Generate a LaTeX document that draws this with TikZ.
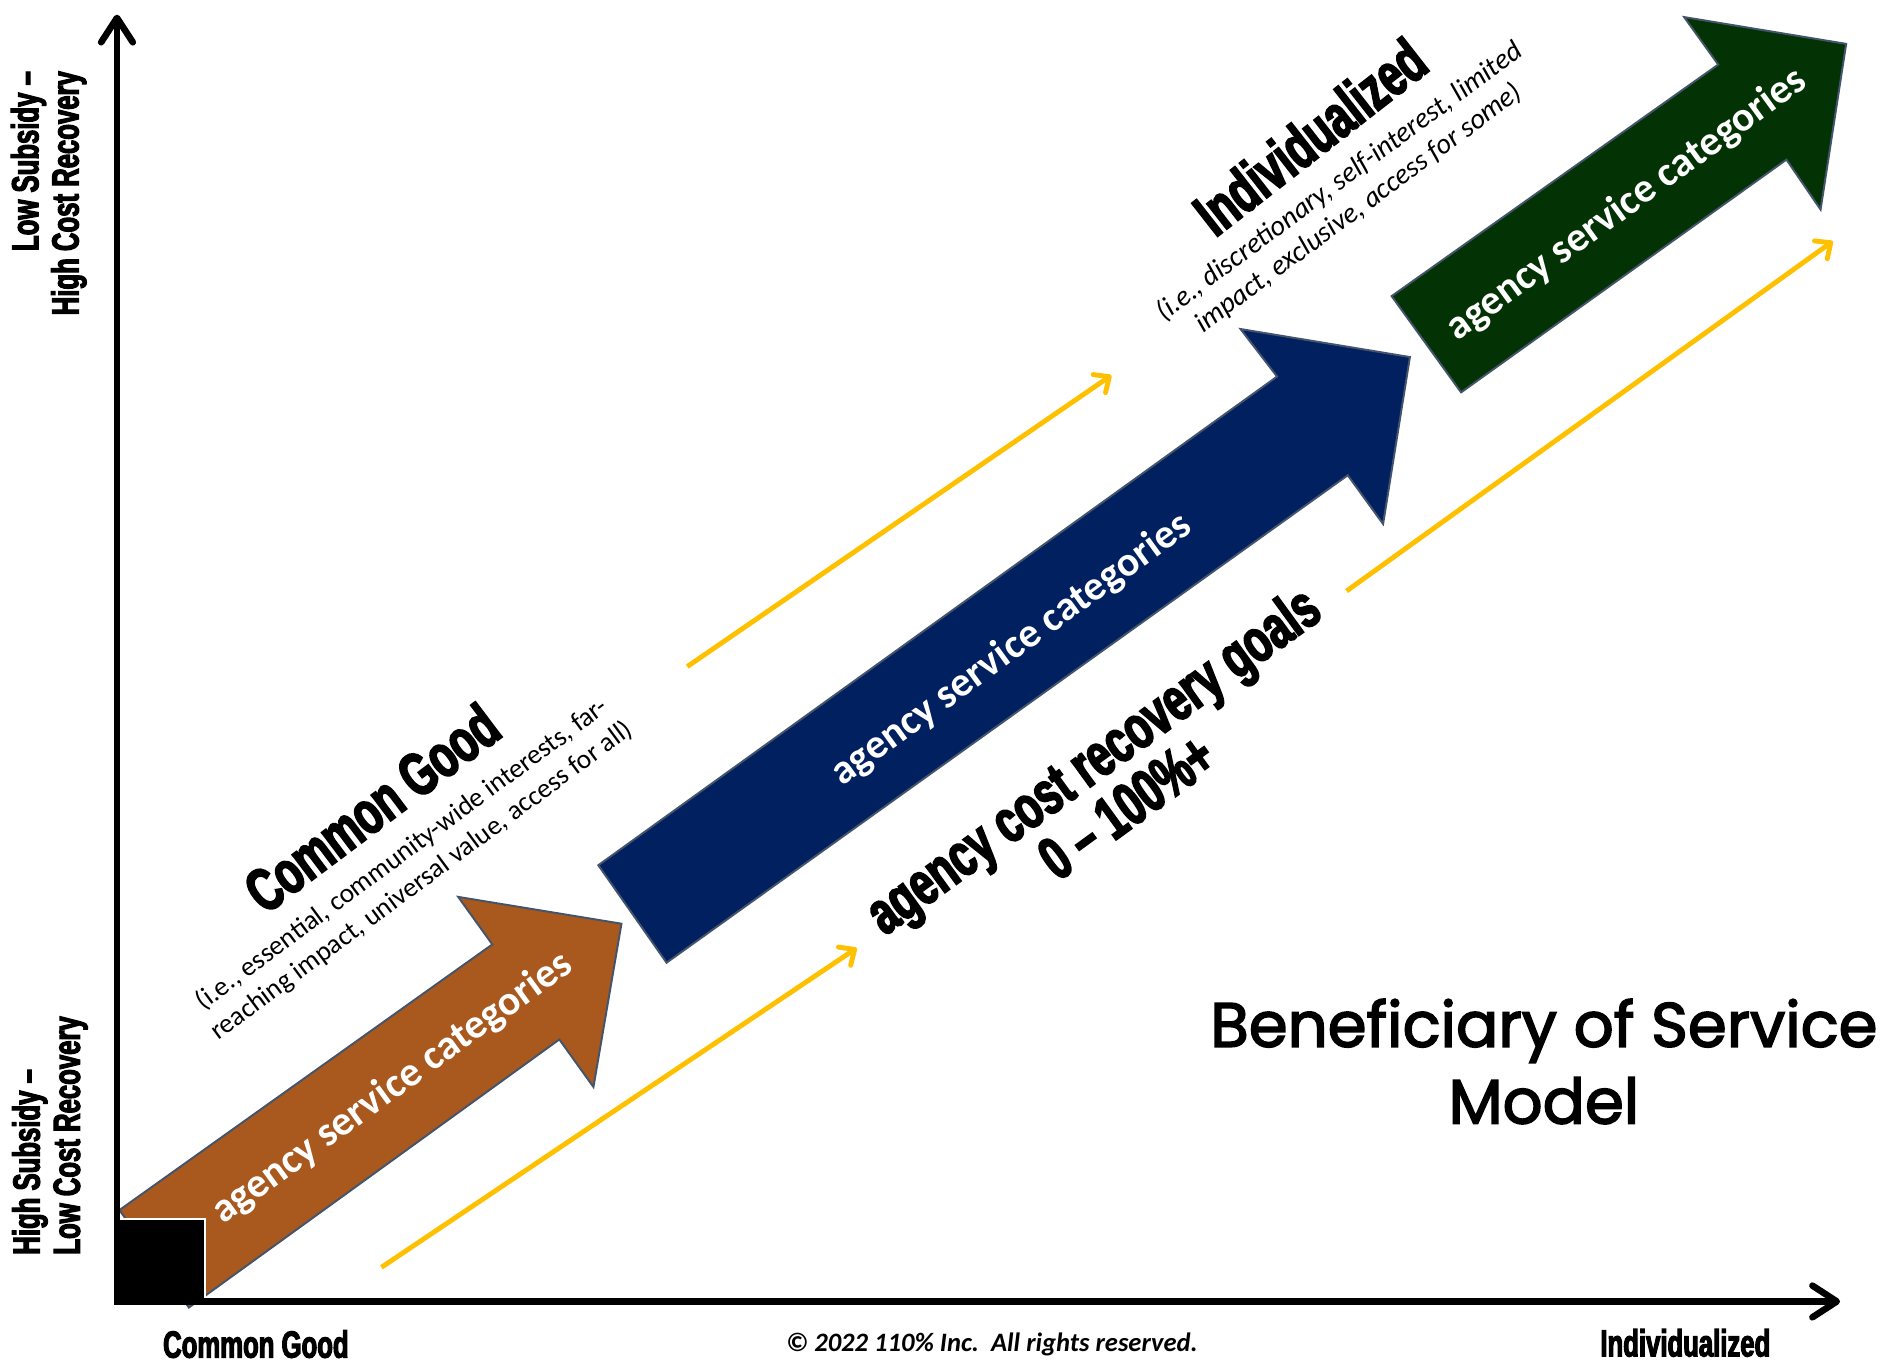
\documentclass[tikz,border=0pt]{standalone}
\usepackage{fontspec}
\setmainfont{Carlito}
\newfontfamily\impactfont[FakeStretch=0.68,FakeBold=3]{Liberation Sans}
\newfontfamily\titlefont[FakeBold=2.5]{Poppins}
\usetikzlibrary{arrows.meta}
\definecolor{brownA}{HTML}{A9581E}
\definecolor{navyA}{HTML}{002060}
\definecolor{greenA}{HTML}{033204}
\definecolor{goldA}{HTML}{FFC000}
\definecolor{edgeA}{HTML}{44546A}
\begin{document}
\begin{tikzpicture}[x=0.5pt,y=-0.5pt,
  blockarrow/.style={draw=edgeA, line width=0.8pt, line join=miter},
  axisline/.style={line width=2.7pt, line cap=rect, -{Straight Barb[length=10pt,width=13pt,round]}},
  goldarrow/.style={draw=goldA, line width=2pt, -{Straight Barb[length=5pt,width=9pt,round]}},
  svc/.style={text=white, inner sep=0pt, font=\bfseries\fontsize{17}{20}\selectfont},
  heavyhead/.style={text=black, inner sep=0pt, align=center, font=\impactfont\bfseries\fontsize{25}{21.5}\selectfont},
  heavysmall/.style={text=black, inner sep=0pt, font=\impactfont\bfseries\fontsize{15.5}{16.5}\selectfont},
  subtext/.style={text=black, inner sep=0pt, align=center, font=\fontsize{11.2}{13.5}\selectfont},
  titletext/.style={text=black, inner sep=0pt, anchor=base, font=\titlefont\fontsize{25.7}{31.5}\selectfont},
  copytext/.style={text=black, inner sep=0pt, font=\bfseries\itshape\fontsize{10.9}{13}\selectfont}
]
\useasboundingbox (0,0) rectangle (1560,1119);

% block arrows
\filldraw[blockarrow, fill=brownA] (98,993) -- (404,775) -- (376,736) -- (510,758) -- (487,892) -- (459,853) -- (155,1073) -- cycle;
\filldraw[blockarrow, fill=navyA] (491,710) -- (1048,309) -- (1018,270) -- (1157,293) -- (1135,430) -- (1106,390) -- (547,790) -- cycle;
\filldraw[blockarrow, fill=greenA] (1142,243) -- (1410,53) -- (1382,14) -- (1515,36) -- (1494,172) -- (1466,131) -- (1199,322) -- cycle;

% black corner square
\fill[black] (96,1000) rectangle (168,1070);
\draw[white, line width=0.9pt] (96,1000) -- (168,1000) -- (168,1066);

% axes
\coordinate (O) at (96,1068);
\coordinate (ytip) at (96,12);
\coordinate (xtip) at (1510,1068);
\draw[axisline] (O) -- (ytip);
\draw[axisline] (O) -- (xtip);

% gold arrows
\coordinate (g1s) at (313,1040);
\coordinate (g1e) at (703,778);
\coordinate (g2s) at (564,547);
\coordinate (g2e) at (912,308);
\coordinate (g3s) at (1105,485);
\coordinate (g3e) at (1504,198);
\draw[goldarrow] (g1s) -- (g1e);
\draw[goldarrow] (g2s) -- (g2e);
\draw[goldarrow] (g3s) -- (g3e);

% texts on arrows
\node[svc, rotate=36] (t1) at (322,893) {agency service categories};
\node[svc, rotate=36] (t2) at (830,533) {agency service categories};
\node[svc, rotate=36] (t3) at (1335,168) {agency service categories};

% headers
\node[heavyhead, rotate=37] (cg) at (305,663) {Common Good};
\node[subtext, rotate=36.5] (cgs) at (338,712) {(i.e., essential, community-wide interests, far-\\reaching impact, universal value, access for all)};
\node[heavyhead, rotate=38] (ind) at (1075,112) {Individualized};
\node[subtext, font=\itshape\fontsize{11.7}{13.5}\selectfont, rotate=36.5] (inds) at (1107,160) {(i.e., discretionary, self-interest, limited\\impact, exclusive, access for some)};
\node[heavyhead, rotate=36] (goal) at (910,642) {agency cost recovery goals\\0 – 100\%+};

% title
\node[titletext] (title1) at (1267,859) {Beneficiary of Service};
\node[titletext] (title2) at (1267,922) {Model};

% axis labels
\node[heavysmall] (xl) at (210,1103) {Common Good};
\node[heavysmall] (xr) at (1383,1102) {Individualized};
\node[copytext] (cr) at (814,1103) {© 2022 110\% Inc.\ \ All rights reserved.};
\node[heavysmall, rotate=90, anchor=east, align=right] (yl1) at (40,58) {Low Subsidy –\\High Cost Recovery};
\node[heavysmall, rotate=90, anchor=west, align=left] (yl2) at (41,1030) {High Subsidy –\\Low Cost Recovery};
\end{tikzpicture}
\end{document}
